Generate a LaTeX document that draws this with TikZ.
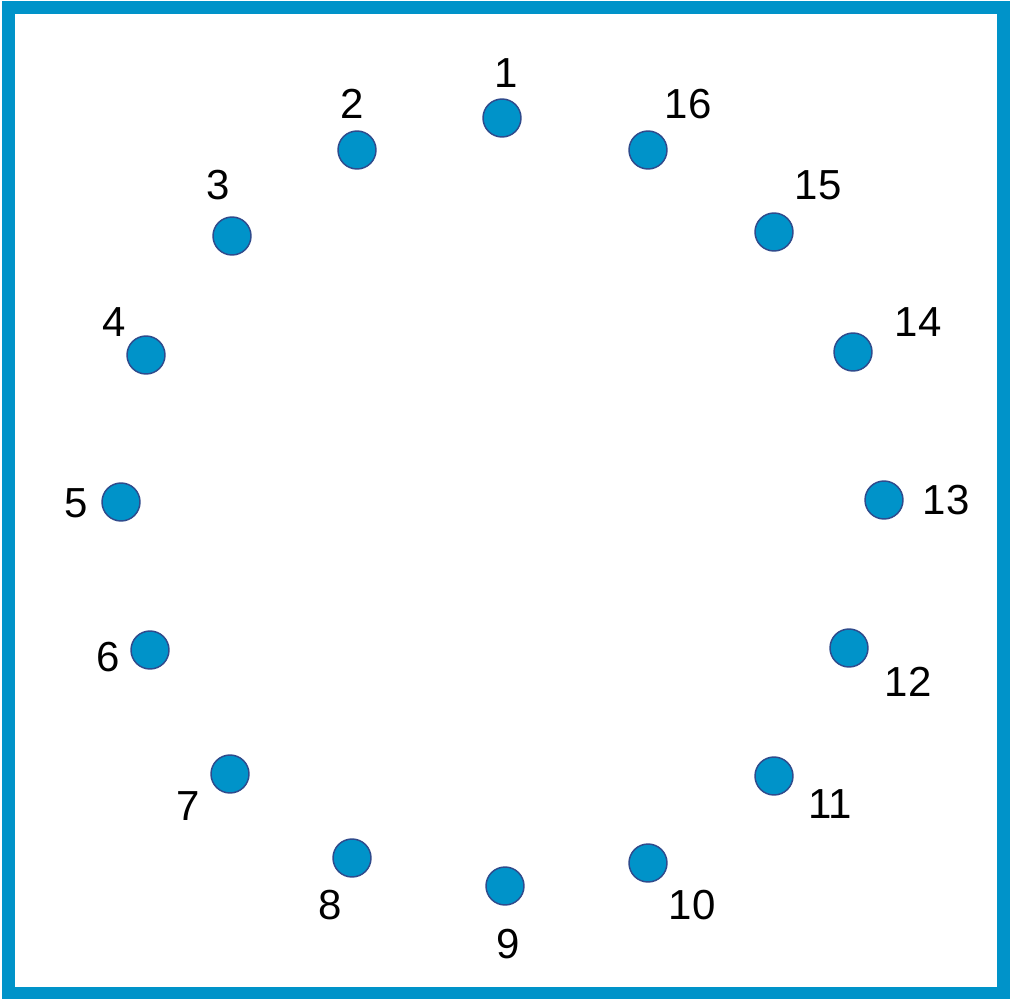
\documentclass[tikz,border=0pt]{standalone}
\usepackage{fontspec}
\setmainfont{Liberation Sans}
\definecolor{frameblue}{RGB}{0,147,201}
\definecolor{dotblue}{RGB}{0,147,201}
\definecolor{dotedge}{RGB}{47,75,140}
\begin{document}
\begin{tikzpicture}[x=0.75pt,y=-0.75pt,
  dot/.style={circle,fill=dotblue,draw=dotedge,line width=1.1pt,minimum size=28.5pt,inner sep=0pt},
  lab/.style={font=\fontsize{31.5}{36}\selectfont,inner sep=0pt,anchor=center},
  framebox/.style={draw=frameblue,line width=9.5pt,inner sep=0pt,minimum width=746.25pt,minimum height=739pt}]
\useasboundingbox (0,0) rectangle (1010,999);
\node[framebox] (frame) at (506,500.3) {};
% dots
\node[dot] (d1) at (502,118) {};
\node[dot] (d2) at (357,150) {};
\node[dot] (d3) at (232,236) {};
\node[dot] (d4) at (146,355) {};
\node[dot] (d5) at (121,502) {};
\node[dot] (d6) at (150,650) {};
\node[dot] (d7) at (230,774) {};
\node[dot] (d8) at (352,858) {};
\node[dot] (d9) at (505,886) {};
\node[dot] (d10) at (648,863) {};
\node[dot] (d11) at (774,776) {};
\node[dot] (d12) at (849,648) {};
\node[dot] (d13) at (884,500) {};
\node[dot] (d14) at (853,352) {};
\node[dot] (d15) at (774,232) {};
\node[dot] (d16) at (648,150) {};
% labels
\node[lab] (l1) at (506,73) {1};
\node[lab] (l2) at (352,104) {2};
\node[lab] (l3) at (218,185) {3};
\node[lab] (l4) at (114,322) {4};
\node[lab] (l5) at (76,503) {5};
\node[lab] (l6) at (108,657) {6};
\node[lab] (l7) at (188,806) {7};
\node[lab] (l8) at (330,905) {8};
\node[lab] (l9) at (508,944) {9};
\node[lab] (l10) at (692,905) {10};
\node[lab] (l11) at (830,804) {11};
\node[lab] (l12) at (908,682) {12};
\node[lab] (l13) at (946,500) {13};
\node[lab] (l14) at (918,322) {14};
\node[lab] (l15) at (818,185) {15};
\node[lab] (l16) at (688,104) {16};
\end{tikzpicture}
\end{document}
